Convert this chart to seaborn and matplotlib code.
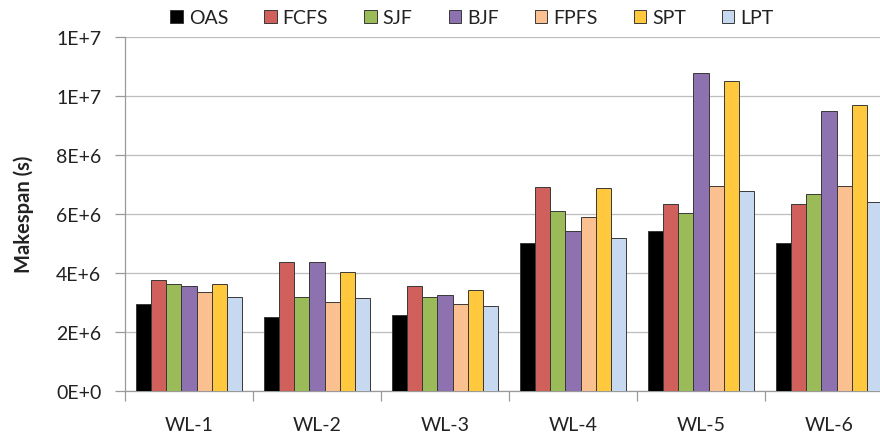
import matplotlib
matplotlib.use("Agg")
import matplotlib.pyplot as plt
import matplotlib.ticker as mticker
from matplotlib.patches import Patch
import seaborn as sns
import pandas as pd

workloads = ["WL-1", "WL-2", "WL-3", "WL-4", "WL-5", "WL-6"]
policies = ["OAS", "FCFS", "SJF", "BJF", "FPFS", "SPT", "LPT"]
OAS  = [2.94e6, 2.50e6, 2.57e6, 5.00e6, 5.40e6, 5.00e6]
FCFS = [3.75e6, 4.37e6, 3.55e6, 6.89e6, 6.32e6, 6.32e6]
SJF  = [3.62e6, 3.19e6, 3.19e6, 6.09e6, 6.01e6, 6.68e6]
BJF  = [3.56e6, 4.37e6, 3.25e6, 5.40e6, 10.77e6, 9.48e6]
FPFS = [3.36e6, 3.02e6, 2.94e6, 5.90e6, 6.94e6, 6.94e6]
SPT  = [3.62e6, 4.03e6, 3.41e6, 6.86e6, 10.49e6, 9.67e6]
LPT  = [3.17e6, 3.13e6, 2.86e6, 5.17e6, 6.76e6, 6.41e6]
yticks = [0, 2e6, 4e6, 6e6, 8e6, 10e6, 12e6]

colors = ["#000000", "#D0605B", "#9BBB59", "#8E72B0", "#FAC090", "#FFC83D", "#C6D9F1"]

series = [OAS, FCFS, SJF, BJF, FPFS, SPT, LPT]
rows = []
for p, vals in zip(policies, series):
    for w, v in zip(workloads, vals):
        rows.append({"Workload": w, "Policy": p, "Makespan": v})
df = pd.DataFrame(rows)

sns.set_theme(style="white")
plt.rcParams["font.family"] = ["Lato", "DejaVu Sans"]

fig = plt.figure(figsize=(8.8, 4.35), dpi=100)
ax = fig.add_axes([125/880, 1-391.7/435, (893-125)/880, (391.7-37.7)/435])

sns.barplot(data=df, x="Workload", y="Makespan", hue="Policy", order=workloads,
            hue_order=policies, palette=colors, saturation=1, width=0.826, gap=0,
            edgecolor="#383838", linewidth=0.7, ax=ax, legend=False, zorder=3)

ax.set_ylim(0, 12e6)
ax.set_xlim(-0.5, 5.5)
ax.set_yticks(yticks)

def fmt(v, pos):
    if v == 0:
        return "0E+0"
    e = 0
    m = v
    while abs(m) >= 10:
        m /= 10
        e += 1
    return f"{round(m):d}E+{e}"

ax.yaxis.set_major_formatter(mticker.FuncFormatter(fmt))
ax.grid(axis="y", color="#bdbdbd", linewidth=0.9, zorder=0)
ax.set_axisbelow(True)

for s in ["top", "right"]:
    ax.spines[s].set_visible(False)
for s in ["left", "bottom"]:
    ax.spines[s].set_color("#9a9a9a")
    ax.spines[s].set_linewidth(0.9)

ax.tick_params(axis="y", which="major", left=True, length=7, width=0.9, color="#9a9a9a",
               labelsize=14, labelcolor="#222222", pad=10)
ax.set_xticks(range(len(workloads)))
ax.set_xticklabels(workloads)
ax.tick_params(axis="x", which="major", bottom=False, labelsize=14, labelcolor="#222222", pad=12)
ax.set_xticks([i - 0.5 for i in range(len(workloads) + 1)], minor=True)
ax.tick_params(axis="x", which="minor", bottom=True, length=7, width=0.9, color="#9a9a9a")

ax.set_xlabel("")
ax.set_ylabel("Makespan (s)", fontsize=14.5, fontweight="bold", color="#222222", labelpad=16)

handles = [Patch(facecolor=c, edgecolor="#383838", linewidth=0.7) for c in colors]
fig.legend(handles, policies, loc="center", bbox_to_anchor=(472/880, 1-19/435), ncol=7,
           frameon=False, fontsize=14, handlelength=0.65, handleheight=0.65,
           handletextpad=0.3, columnspacing=1.85, labelcolor="#222222")

fig.savefig("out.png", dpi=100)
